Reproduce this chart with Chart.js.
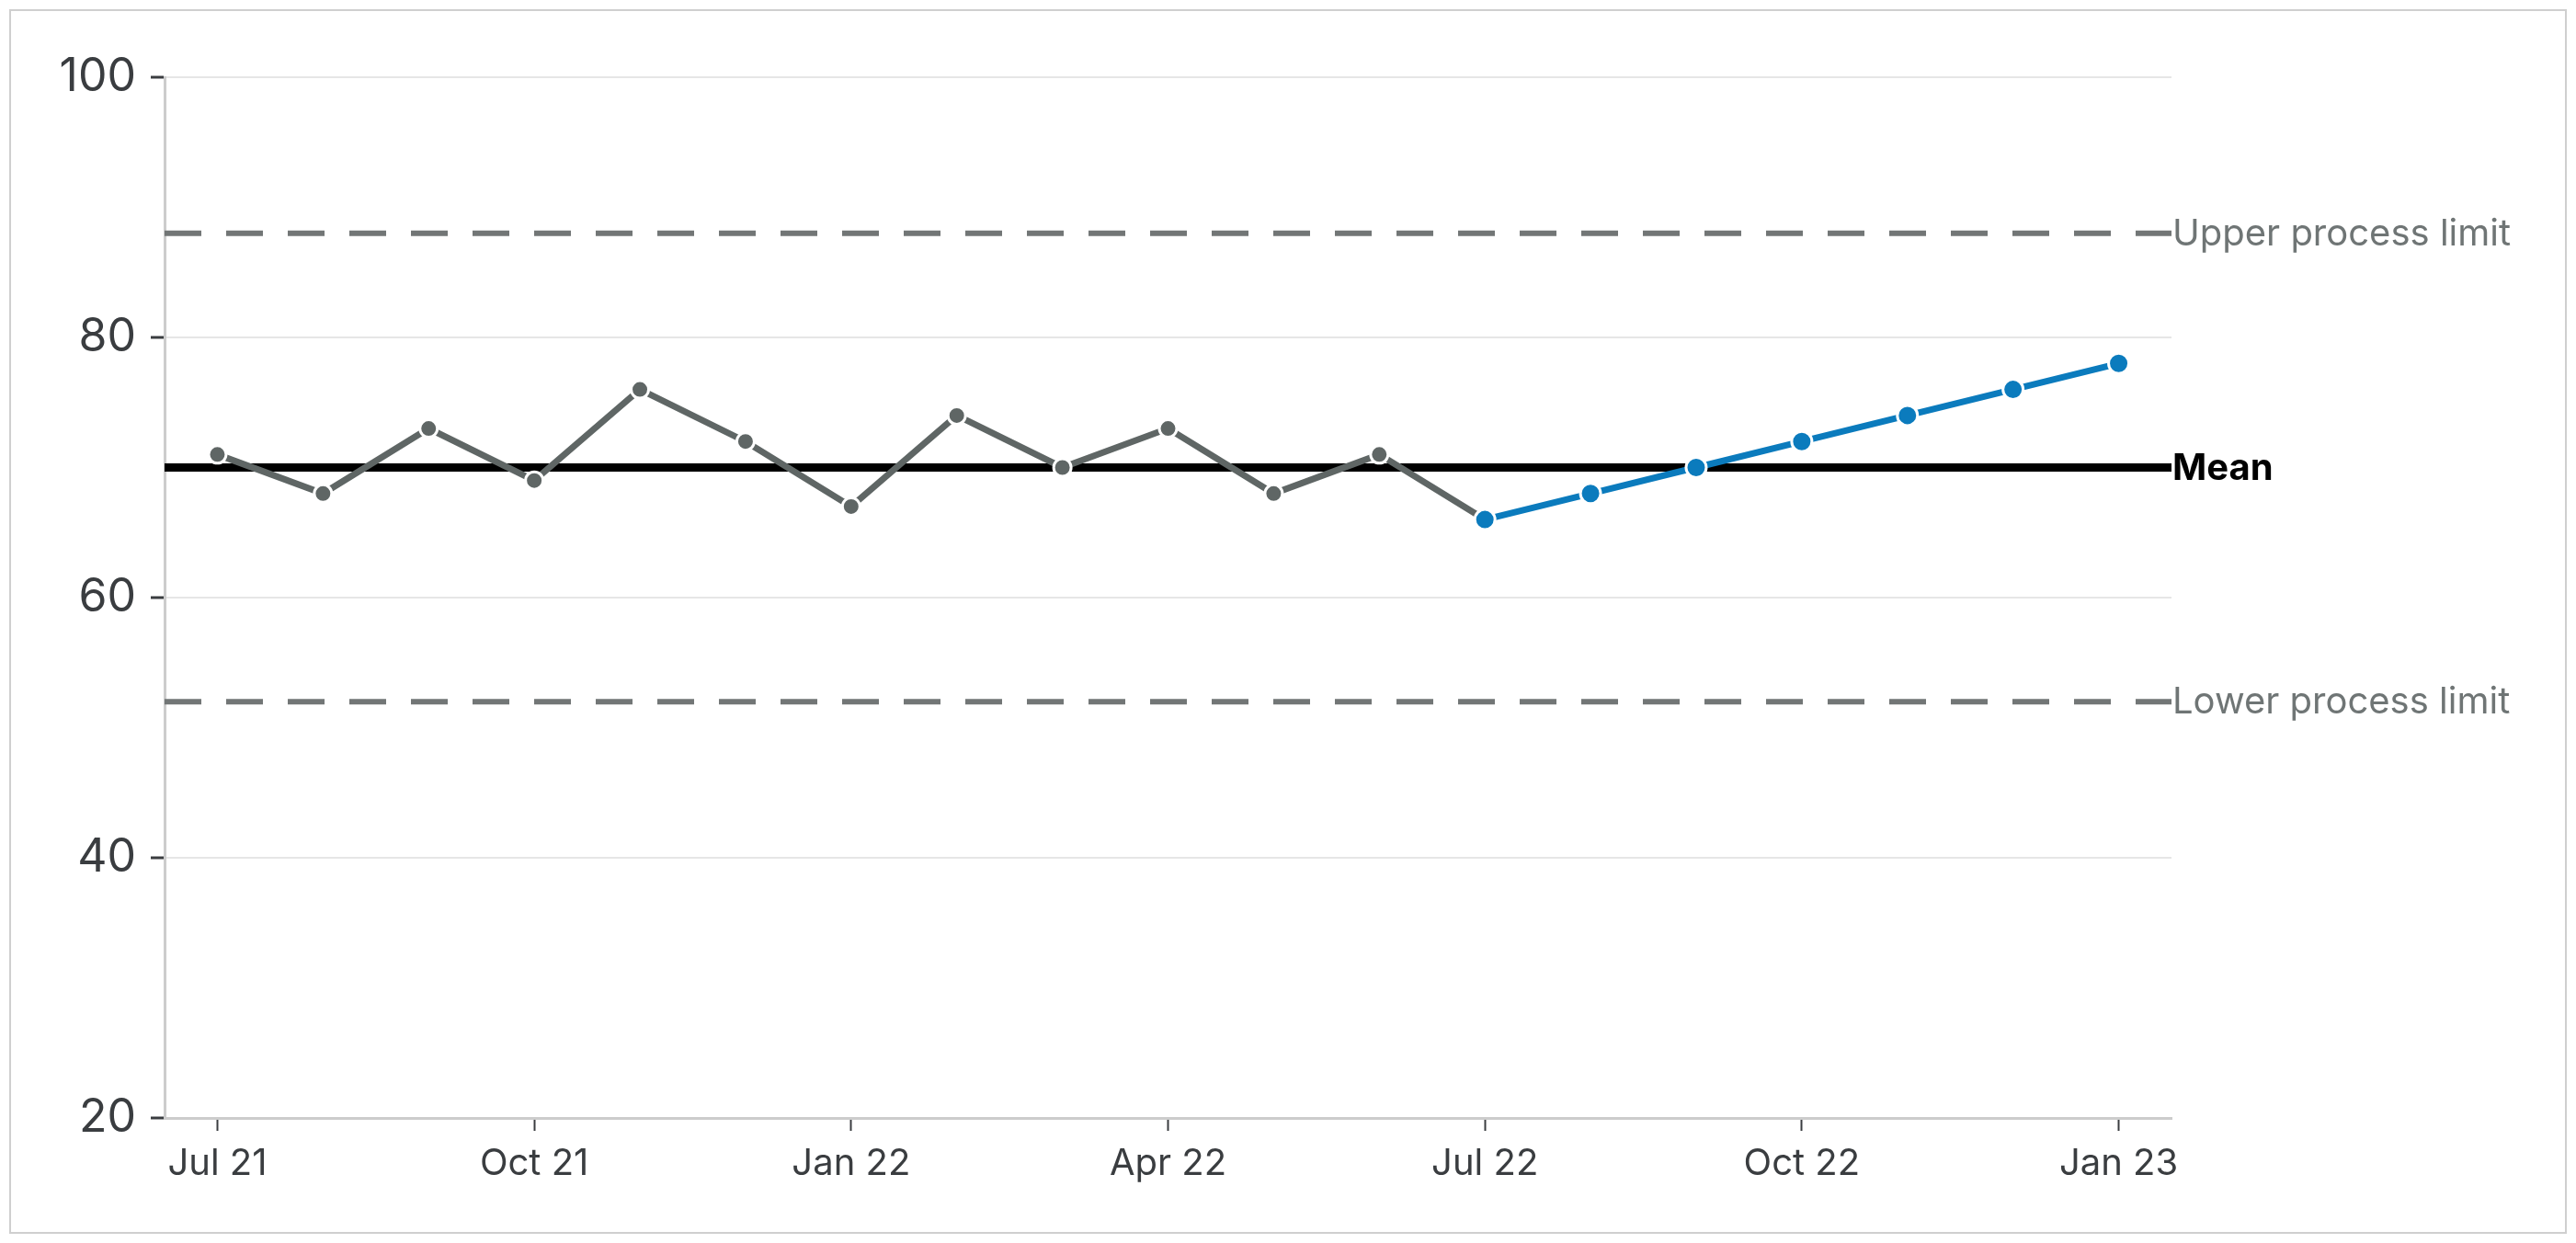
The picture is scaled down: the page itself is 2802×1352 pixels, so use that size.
<!DOCTYPE html>
<html>
<head>
<meta charset="utf-8">
<script src="https://cdn.jsdelivr.net/npm/chart.js"></script>
<style>
  html, body { margin: 0; padding: 0; background: #fff; }
  #frame {
    position: absolute; left: 10px; top: 10px;
    width: 2782px; height: 1332px;
    box-sizing: border-box; border: 2px solid #cfcfcf;
  }
  #chart { display: block; }
</style>
</head>
<body>
<div id="frame"><canvas id="chart" width="2778" height="1328"></canvas></div>
<script>
// === Data ===
const monthLabels = ['Jul 21', 'Aug 21', 'Sep 21', 'Oct 21', 'Nov 21', 'Dec 21', 'Jan 22', 'Feb 22', 'Mar 22', 'Apr 22',
  'May 22', 'Jun 22', 'Jul 22', 'Aug 22', 'Sep 22', 'Oct 22', 'Nov 22', 'Dec 22', 'Jan 23'];
const historyValues = [71, 68, 73, 69, 76, 72, 67, 74, 70, 73, 68, 71, 66];   // Jul 21 .. Jul 22
const trendStart = 12;                                                    // trend begins at Jul 22
const trendValues = [66, 68, 70, 72, 74, 76, 78];                         // Jul 22 .. Jan 23
const meanValue = 70;
const upperLimit = 88;
const lowerLimit = 52;
const xTickIndexes = [0, 3, 6, 9, 12, 15, 18];
const refLabels = [
  { value: upperLimit, text: 'Upper process limit', color: '#6f7575', bold: false },
  { value: meanValue, text: 'Mean', color: '#000000', bold: true },
  { value: lowerLimit, text: 'Lower process limit', color: '#6f7575', bold: false }
];

// === Styles ===
const FONT = 'Inter, "Noto Sans", sans-serif';
const GREY = '#5f6665';
const BLUE = '#0b7bbd';
const LIMIT = '#727676';
const TEXT = '#3a3d40';

const xMin = -0.5;
const xMax = monthLabels.length - 0.5;

function flatLine(v) { return [{ x: xMin, y: v }, { x: xMax, y: v }]; }

// right-hand labels for the reference lines
const refLabelPlugin = {
  id: 'refLabels',
  afterDatasetsDraw(chart) {
    const { ctx, chartArea, scales } = chart;
    ctx.save();
    ctx.textBaseline = 'middle';
    ctx.textAlign = 'left';
    refLabels.forEach(l => {
      ctx.font = (l.bold ? 'bold ' : '') + '40px ' + FONT;
      ctx.fillStyle = l.color;
      ctx.fillText(l.text, chartArea.right + 1, scales.y.getPixelForValue(l.value) + 1);
    });
    ctx.restore();
  }
};

new Chart(document.getElementById('chart'), {
  type: 'line',
  data: {
    datasets: [
      { data: trendValues.map((v, i) => ({ x: trendStart + i, y: v })), borderColor: BLUE, borderWidth: 7,
        pointRadius: 11, pointBackgroundColor: BLUE, pointBorderColor: '#ffffff', pointBorderWidth: 3, order: 1 },
      { data: historyValues.map((v, i) => ({ x: i, y: v })), borderColor: GREY, borderWidth: 7,
        pointRadius: 9.5, pointBackgroundColor: GREY, pointBorderColor: '#ffffff', pointBorderWidth: 3, order: 2 },
      { data: flatLine(meanValue), borderColor: '#000000', borderWidth: 9, pointRadius: 0, order: 3 },
      { data: flatLine(upperLimit), borderColor: LIMIT, borderWidth: 6, borderDash: [40, 27], pointRadius: 0, order: 4 },
      { data: flatLine(lowerLimit), borderColor: LIMIT, borderWidth: 6, borderDash: [40, 27], pointRadius: 0, order: 4 }
    ]
  },
  options: {
    responsive: false,
    animation: false,
    devicePixelRatio: 1,
    layout: { padding: { top: 72, right: 428, bottom: 0, left: 0 } },
    plugins: { legend: { display: false }, tooltip: { enabled: false } },
    scales: {
      x: {
        type: 'linear',
        min: xMin,
        max: xMax,
        afterBuildTicks: s => { s.ticks = xTickIndexes.map(v => ({ value: v })); },
        afterFit: s => { s.height = 124; },
        border: { color: '#cccccc', width: 3 },
        grid: { drawOnChartArea: false, drawTicks: true, tickLength: 14, tickColor: TEXT, tickWidth: 2 },
        ticks: {
          color: TEXT, padding: 12, font: { family: FONT, size: 40 },
          callback: v => monthLabels[v] ?? ''
        }
      },
      y: {
        min: 20,
        max: 100,
        afterFit: s => { s.width = 167; },
        border: { color: '#cccccc', width: 3 },
        grid: { color: '#e6e6e6', lineWidth: 2, tickLength: 15, tickColor: TEXT, tickWidth: 3 },
        ticks: { stepSize: 20, color: TEXT, padding: 16, font: { family: FONT, size: 50 } }
      }
    }
  },
  plugins: [refLabelPlugin]
});
</script>
</body>
</html>
